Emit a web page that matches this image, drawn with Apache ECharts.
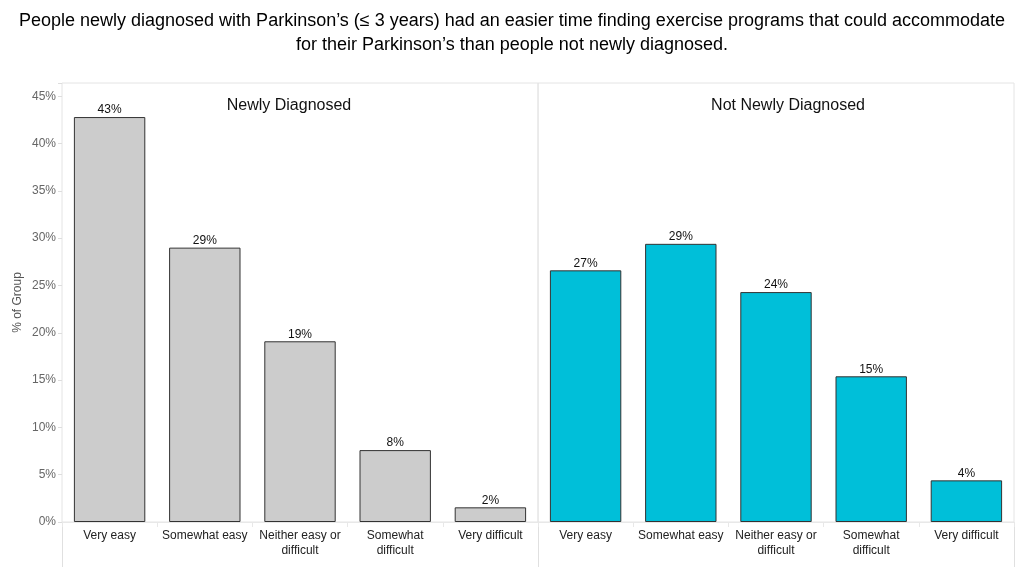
<!DOCTYPE html>
<html><head><meta charset="utf-8">
<script src="https://cdn.jsdelivr.net/npm/echarts@6/dist/echarts.min.js"></script>
<style>html,body{margin:0;padding:0;background:#fff}#c{width:1024px;height:576px}</style>
</head><body><div id="c"></div>
<script>
const categories = ['Very easy', 'Somewhat easy', 'Neither easy or\ndifficult', 'Somewhat\ndifficult', 'Very difficult'];
const newlyDiagnosed = [42.8, 29.0, 19.1, 7.6, 1.55];
const notNewlyDiagnosed = [26.6, 29.4, 24.3, 15.4, 4.4];
const yTicks = [0, 5, 10, 15, 20, 25, 30, 35, 40, 45];
const panelTitles = ['Newly Diagnosed', 'Not Newly Diagnosed'];
const chartTitle = 'People newly diagnosed with Parkinson\u2019s (\u2264 3 years) had an easier time finding exercise programs that could accommodate\nfor their Parkinson\u2019s than people not newly diagnosed.';

const FONT = '"Liberation Sans", Arial, sans-serif';
const chart = echarts.init(document.getElementById('c'));
const yMax = 46.4;
function yAxis(idx, show) {
  return {
    type: 'value', gridIndex: idx, min: 0, max: yMax, interval: 5,
    name: show ? '% of Group' : '', nameLocation: 'middle', nameGap: 38,
    nameTextStyle: { color: '#555', fontSize: 12, fontFamily: FONT },
    axisLine: { show: false },
    axisTick: { show: show, length: 4, lineStyle: { color: '#ddd' } },
    splitLine: { show: false },
    axisLabel: {
      show: show, color: '#666', fontSize: 12, fontFamily: FONT, margin: 6,
      formatter: v => yTicks.includes(Math.round(v * 1000) / 1000) ? v + '%' : ''
    }
  };
}
function xAxis(idx) {
  return {
    type: 'category', gridIndex: idx, data: categories,
    axisLine: { lineStyle: { color: '#e8e8e8' } },
    axisTick: { show: true, length: 5, lineStyle: { color: '#e8e8e8' } },
    axisLabel: { color: '#222', fontSize: 12, fontFamily: FONT, margin: 6, lineHeight: 15, interval: 0 }
  };
}
function series(idx, data, color) {
  return {
    type: 'bar', xAxisIndex: idx, yAxisIndex: idx, data: data, barWidth: '75%',
    itemStyle: { color: color, borderColor: '#333', borderWidth: 1 },
    label: { show: true, position: 'top', distance: 1, color: '#111', fontSize: 12, fontFamily: FONT,
      formatter: p => Math.round(p.value) + '%' }
  };
}
const lineStyle = { stroke: '#e0e0e0', lineWidth: 1 };
chart.setOption({
  animation: false,
  title: [
    { text: chartTitle, left: 512, top: 9, textAlign: 'center', padding: 0,
      textStyle: { fontSize: 18, fontWeight: 'normal', color: '#000', fontFamily: FONT, lineHeight: 24 } },
    { text: panelTitles[0], left: 289, top: 98, textAlign: 'center', padding: 0,
      textStyle: { fontSize: 16, fontWeight: 'normal', color: '#111', fontFamily: FONT } },
    { text: panelTitles[1], left: 788, top: 98, textAlign: 'center', padding: 0,
      textStyle: { fontSize: 16, fontWeight: 'normal', color: '#111', fontFamily: FONT } }
  ],
  grid: [
    { left: 62, right: 486, top: 83, bottom: 54, show: true, borderColor: '#e4e4e4', borderWidth: 1 },
    { left: 538, right: 10, top: 83, bottom: 54, show: true, borderColor: '#e4e4e4', borderWidth: 1 }
  ],
  xAxis: [xAxis(0), xAxis(1)],
  yAxis: [yAxis(0, true), yAxis(1, false)],
  series: [series(0, newlyDiagnosed, '#cccccc'), series(1, notNewlyDiagnosed, '#00bfd9')],
  graphic: [
    { type: 'line', shape: { x1: 62.5, y1: 522, x2: 62.5, y2: 567 }, style: lineStyle, silent: true },
    { type: 'line', shape: { x1: 538.5, y1: 522, x2: 538.5, y2: 567 }, style: lineStyle, silent: true },
    { type: 'line', shape: { x1: 1014.5, y1: 522, x2: 1014.5, y2: 567 }, style: lineStyle, silent: true }
  ]
});
</script></body></html>
